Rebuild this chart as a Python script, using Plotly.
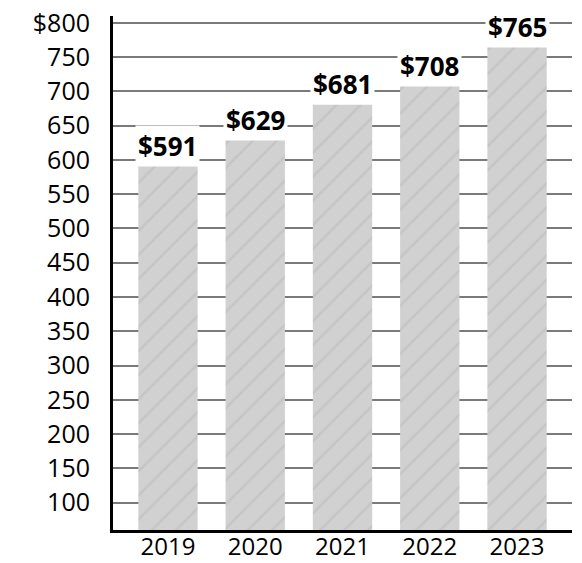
import plotly.graph_objects as go

years = ["2019", "2020", "2021", "2022", "2023"]
values = [591, 629, 681, 708, 765]
bar_labels = ["$591", "$629", "$681", "$708", "$765"]
y_tickvals = [100, 150, 200, 250, 300, 350, 400, 450, 500, 550, 600, 650, 700, 750, 800]
y_ticktext = ["100", "150", "200", "250", "300", "350", "400", "450", "500", "550",
              "600", "650", "700", "750", "$800"]

FONT = "Open Sans"

fig = go.Figure()
fig.add_trace(go.Bar(
    x=years, y=values, width=0.68,
    marker=dict(
        color="#d1d1d1",
        line=dict(width=0),
        pattern=dict(shape="/", fgcolor="#b9b9b9", bgcolor="#d1d1d1", size=17, solidity=0.16),
    ),
    hoverinfo="skip",
))

for i, (v, t) in enumerate(zip(values, bar_labels)):
    fig.add_annotation(
        xref="x", yref="y",
        x=i, y=v, text="<b>" + t + "</b>", showarrow=False, yanchor="bottom", yshift=-1,
        font=dict(family=FONT, size=26, color="black"),
        bgcolor="white", borderpad=2,
    )

fig.update_layout(
    width=582, height=563,
    margin=dict(l=113, r=10, t=16, b=33, autoexpand=False),
    paper_bgcolor="white", plot_bgcolor="white",
    showlegend=False,
    font=dict(family=FONT, size=25, color="black"),
    xaxis=dict(
        type="category",
        range=[-0.63, 4.63], showline=True, linecolor="black", linewidth=3,
        showgrid=False, ticks="", tickfont=dict(family=FONT, size=24, color="black"),
        ticklabelstandoff=-7, zeroline=False, automargin=False,
    ),
    yaxis=dict(
        range=[60, 810], showline=True, linecolor="black", linewidth=3,
        tickvals=y_tickvals, ticktext=y_ticktext, ticks="",
        showgrid=True, gridcolor="#7a7a7a", gridwidth=1.5, zeroline=False,
        tickfont=dict(family=FONT, size=25, color="black"),
        ticklabelstandoff=15, automargin=False,
    ),
)

fig.write_html("out.html", config={"displayModeBar": False},
               post_script="document.body.style.margin='0';")
